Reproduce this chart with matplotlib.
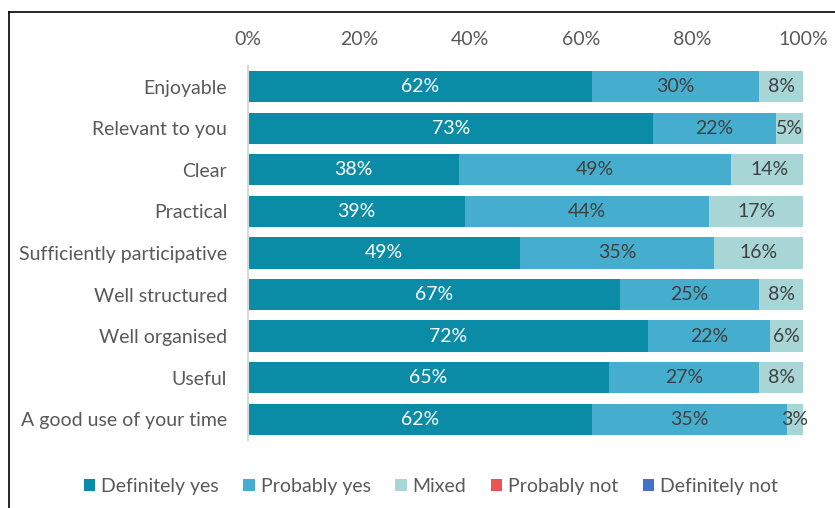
import numpy as np
import matplotlib.pyplot as plt

plt.rcParams['font.family'] = ['Lato', 'DejaVu Sans']

categories = ['Enjoyable', 'Relevant to you', 'Clear', 'Practical',
              'Sufficiently participative', 'Well structured', 'Well organised',
              'Useful', 'A good use of your time']
definitely_yes = [62, 73, 38, 39, 49, 67, 72, 65, 62]
probably_yes = [30, 22, 49, 44, 35, 25, 22, 27, 35]
mixed = [8, 5, 14, 17, 16, 8, 6, 8, 3]
probably_not = [0, 0, 0, 0, 0, 0, 0, 0, 0]
definitely_not = [0, 0, 0, 0, 0, 0, 0, 0, 0]

series = [
    ('Definitely yes', definitely_yes, '#0A8CA6', 'white'),
    ('Probably yes', probably_yes, '#45AECE', '#404040'),
    ('Mixed', mixed, '#A8D6D7', '#404040'),
    ('Probably not', probably_not, '#EB5454', '#404040'),
    ('Definitely not', definitely_not, '#4472C4', 'white'),
]

FS = 14

fig = plt.figure(figsize=(8.35, 5.08), dpi=100)
ax = fig.add_axes([0.297, 0.134, 0.665, 0.736])

y = np.arange(len(categories))
left = np.zeros(len(categories))
for name, vals, color, txt in series:
    vals = np.array(vals, dtype=float)
    ax.barh(y, vals, left=left, height=0.75, color=color, label=name)
    for yi, (l, v) in enumerate(zip(left, vals)):
        if v > 0:
            ax.text(l + v / 2, yi, f'{int(v)}%', ha='center', va='center',
                    color=txt, fontsize=FS)
    left += vals

ax.set_xlim(0, 100)
ax.set_ylim(len(categories) - 0.5, -0.5)
ax.set_yticks(y)
ax.set_yticklabels(categories)
ax.set_xticks(np.arange(0, 101, 20))
ax.set_xticklabels([f'{v}%' for v in range(0, 101, 20)])
ax.xaxis.tick_top()
ax.tick_params(axis='x', length=0, pad=13, labelsize=FS, labelcolor='#595959')
ax.tick_params(axis='y', length=0, pad=15, labelsize=FS, labelcolor='#595959')
for s in ['top', 'right', 'bottom']:
    ax.spines[s].set_visible(False)
ax.spines['left'].set_color('#D9D9D9')
ax.spines['left'].set_linewidth(1.5)

fig.legend(loc='center', bbox_to_anchor=(0.516, 0.043), ncol=5, frameon=False,
           fontsize=FS, handlelength=0.6, handleheight=0.6, handletextpad=0.3,
           columnspacing=1.25, labelcolor='#595959')

# frame edges along the left and top
fig.add_artist(plt.Line2D([0.011, 0.011], [0, 0.976], color='black', lw=1.2))
fig.add_artist(plt.Line2D([0.011, 1.0], [0.976, 0.976], color='black', lw=1.2))

fig.savefig('out.png', dpi=100)
